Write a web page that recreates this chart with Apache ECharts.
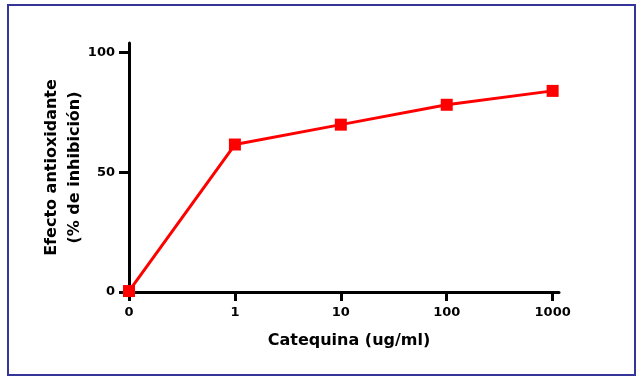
<!DOCTYPE html>
<html>
<head>
<meta charset="utf-8">
<script src="https://cdn.jsdelivr.net/npm/echarts@6/dist/echarts.min.js"></script>
<style>
html,body{margin:0;padding:0;background:#fff;}
#frame{position:absolute;left:7px;top:4px;width:629px;height:372px;border:2px solid #34349a;box-sizing:border-box;}
#chart{position:absolute;left:0;top:0;width:643px;height:380px;}
</style>
</head>
<body>
<div id="frame"></div>
<div id="chart"></div>
<script>
const categories = ['0', '1', '10', '100', '1000'];
const inhibition = [0.4, 61.6, 69.9, 78.2, 84.0];
const yTicks = [0, 50, 100];
const xTickIndex = [0, 1, 2, 3, 4];
const xTitle = 'Catequina (ug/ml)';
const yTitle = 'Efecto antioxidante\n(% de inhibición)';

const font = '"DejaVu Sans", Verdana, sans-serif';
const chart = echarts.init(document.getElementById('chart'), null, {renderer: 'canvas'});
chart.setOption({
  animation: false,
  grid: {left: 129, right: 84, top: 43, bottom: 88, containLabel: false},
  xAxis: {
    type: 'value',
    min: 0,
    max: 4.06,
    splitLine: {show: false},
    axisLine: {lineStyle: {color: '#000', width: 3}},
    axisTick: {length: 9, customValues: xTickIndex, lineStyle: {color: '#000', width: 3}},
    axisLabel: {color: '#000', fontFamily: font, fontWeight: 'bold', fontSize: 13, margin: 14,
      customValues: xTickIndex, formatter: v => categories[Math.round(v)]},
    name: xTitle,
    nameLocation: 'middle',
    nameGap: 41,
    nameMoveOverlap: false,
    nameTextStyle: {color: '#000', fontFamily: font, fontWeight: 'bold', fontSize: 16, padding: [0, 0, 0, 10]}
  },
  yAxis: {
    type: 'value',
    min: 0,
    max: 104,
    splitLine: {show: false},
    axisLine: {show: true, lineStyle: {color: '#000', width: 3}},
    axisTick: {show: true, length: 10, customValues: yTicks, lineStyle: {color: '#000', width: 3}},
    axisLabel: {color: '#000', fontFamily: font, fontWeight: 'bold', fontSize: 13, margin: 14, customValues: yTicks},
    name: yTitle,
    nameLocation: 'middle',
    nameGap: 43,
    nameMoveOverlap: false,
    nameTextStyle: {color: '#000', fontFamily: font, fontWeight: 'bold', fontSize: 16, lineHeight: 23, align: 'center'}
  },
  series: [{
    type: 'line',
    data: inhibition.map((v, i) => [i, v]),
    symbol: 'rect',
    symbolSize: 12,
    lineStyle: {color: '#ff0000', width: 3},
    itemStyle: {color: '#ff0000'},
    z: 5
  }]
});
</script>
</body>
</html>
